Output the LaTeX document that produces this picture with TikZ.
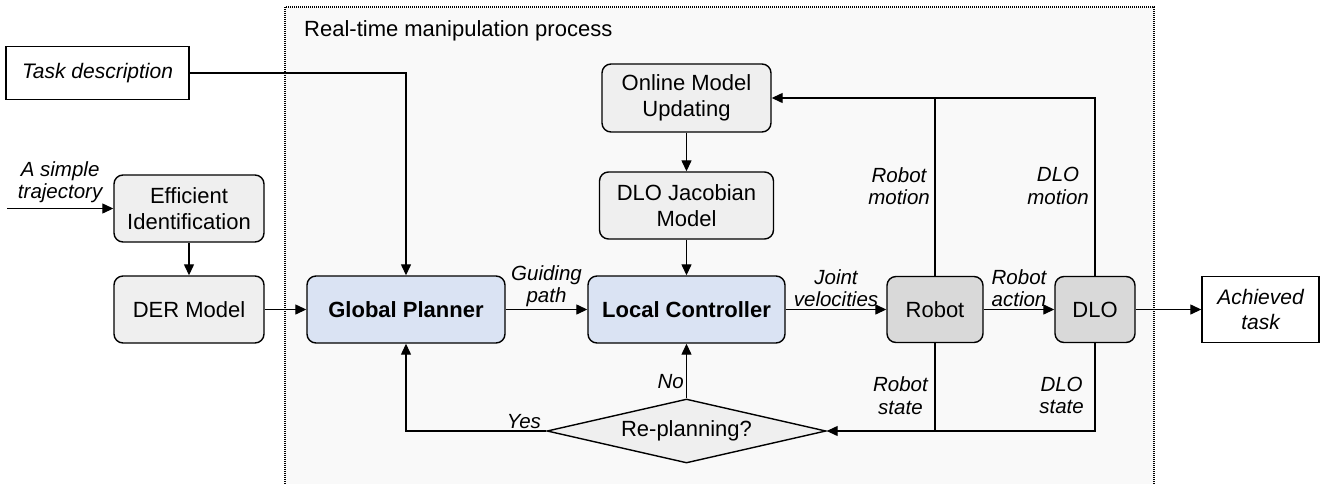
\documentclass[tikz,border=0pt]{standalone}
\usepackage{fontspec}
\setmainfont{Liberation Sans}
\usetikzlibrary{arrows.meta,positioning,shapes.geometric}

\definecolor{boxgray}{HTML}{EFEFEF}
\definecolor{devgray}{HTML}{D9D9D9}
\definecolor{planblue}{HTML}{DAE3F3}
\definecolor{bggray}{HTML}{F9F9F9}

\begin{document}
\begin{tikzpicture}[x=1pt, y=-1pt,
  block/.style={draw, line width=1.4pt, rounded corners=9pt, fill=boxgray,
    inner sep=0pt, align=center, minimum height=67pt,
    font=\fontsize{22}{26}\selectfont},
  planbox/.style={block, fill=planblue, font=\fontsize{22}{26}\selectfont\bfseries},
  devbox/.style={block, fill=devgray},
  plain/.style={draw, line width=1.4pt, fill=white, inner sep=0pt, align=center,
    font=\fontsize{21}{25}\selectfont\itshape},
  decide/.style={diamond, draw, line width=1.4pt, fill=boxgray, inner sep=0pt,
    aspect=4.36, minimum width=279pt, minimum height=64pt,
    font=\fontsize{22}{26}\selectfont},
  lbl/.style={inner sep=2pt, align=center, font=\fontsize{20.5}{22.5}\selectfont\itshape},
  line/.style={line width=1.3pt},
  arr/.style={line, -{Triangle[length=11pt, width=10pt]}}
]
\useasboundingbox (0,0) rectangle (1320,483);

% Real-time process frame
\draw[dash pattern=on 1pt off 1pt, line width=1.3pt, fill=bggray] (285,7) rectangle (1154,495);
\node[anchor=west, inner sep=0pt, font=\fontsize{22}{24}\selectfont] (title) at (304,31)
  {Real-time manipulation process};

% Offline part
\node[plain, minimum width=183pt, minimum height=53pt] (task) at (97.5,73) {Task description};
\coordinate (traj) at (7,208.5);
\node[block, minimum width=150pt] (ident) at (189,208.5) {Efficient\\Identification};
\node[block, minimum width=150pt] (der) at (189,309.5) {DER Model};

% Planning and control
\node[planbox, minimum width=198pt] (global) at (406,309.5) {Global Planner};
\node[planbox, minimum width=197pt] (local) at (686.5,309.5) {Local Controller};
\node[block, minimum width=169pt, minimum height=68pt] (online) at (686.5,98) {Online Model\\Updating};
\node[block, minimum width=174pt] (jacob) at (686.5,205.5) {DLO Jacobian\\Model};
\node[decide] (replan) at (686.5,431) {Re-planning?};

% Plant
\node[devbox, minimum width=96pt, minimum height=66pt] (robot) at (935,309.5) {Robot};
\node[devbox, minimum width=80pt, minimum height=66pt] (dlo) at (1095,309.5) {DLO};
\node[plain, minimum width=117pt, minimum height=66pt] (done) at (1260.5,309.5) {Achieved\\task};

% Connections
\draw[arr] (traj) -- node[lbl, above, yshift=3pt] {A simple\\trajectory} (ident);
\draw[arr] (ident) -- (der);
\draw[arr] (der) -- (global);
\draw[arr] (task) -| (global);
\draw[arr] (global) -- node[lbl, above] {Guiding\\path} (local);
\draw[arr] (online) -- (jacob);
\draw[arr] (jacob) -- (local);
\draw[arr] (local) -- node[lbl, above] {Joint\\velocities} (robot);
\draw[arr] (robot) -- node[lbl, above] {Robot\\action} (dlo);
\draw[arr] (dlo) -- (done);

% Feedback
\draw[arr] (dlo.north) |- (online.east);
\draw[line] (robot.north) -- (robot.north |- online.east);
\draw[arr] (dlo.south) |- (replan.east);
\draw[line] (robot.south) -- (robot.south |- replan.east);
\draw[arr] (replan) -- node[lbl, left, pos=0.3] {No} (local);
\draw[arr] (replan.west) -| node[lbl, above, pos=0.08] {Yes} (global);

\node[lbl, anchor=east] (robmotion) at (932,186) {Robot\\motion};
\node[lbl, anchor=east] (dlomotion) at (1091,186) {DLO\\motion};
\node[lbl, anchor=east] (robstate) at (930,395.5) {Robot\\state};
\node[lbl, anchor=east] (dlostate) at (1086,395.5) {DLO\\state};

\end{tikzpicture}
\end{document}
